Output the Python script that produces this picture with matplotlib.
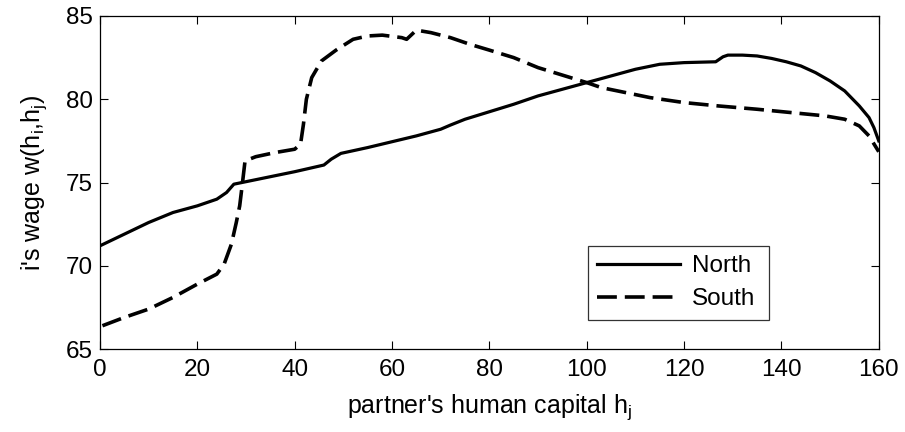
import matplotlib
matplotlib.use("Agg")
import matplotlib.pyplot as plt

plt.rcParams['font.family'] = ['Liberation Sans', 'DejaVu Sans']
plt.rcParams['mathtext.fontset'] = 'custom'
plt.rcParams['mathtext.rm'] = 'Liberation Sans'

# partner's human capital vs wage
north_x = [0, 5, 10, 15, 20, 24, 26, 27.5, 30, 35, 40, 46, 47.5, 49.5, 55, 60, 65,
           70, 72, 75, 80, 85, 90, 95, 100, 105, 110, 115, 120, 126.5, 128, 129,
           132, 135, 138, 141, 144, 147, 150, 153, 156, 158, 159, 160]
north_y = [71.2, 71.9, 72.6, 73.2, 73.6, 74.0, 74.4, 74.9, 75.05, 75.35, 75.65,
           76.05, 76.4, 76.75, 77.1, 77.45, 77.8, 78.2, 78.45, 78.8, 79.25, 79.7,
           80.2, 80.6, 81.0, 81.4, 81.8, 82.1, 82.2, 82.25, 82.55, 82.65, 82.65,
           82.6, 82.45, 82.25, 82.0, 81.6, 81.1, 80.5, 79.6, 78.9, 78.3, 77.5]

south_x = [0.5, 5, 10, 15, 20, 24, 25.5, 27, 28, 28.7, 29.2, 29.8, 32, 36, 40,
           41.2, 41.8, 42.4, 43.5, 45.5, 48.5, 52, 55, 58, 62, 63, 65, 68, 72, 76,
           80, 85, 90, 95, 100, 103, 108, 113, 120, 127, 135, 142, 149, 153, 156,
           158, 160]
south_y = [66.4, 66.9, 67.4, 68.1, 68.9, 69.5, 70.1, 71.3, 72.6, 73.6, 74.8, 76.3,
           76.55, 76.8, 77.0, 77.3, 78.5, 80.0, 81.3, 82.3, 82.95, 83.6, 83.8,
           83.85, 83.7, 83.6, 84.15, 84.0, 83.7, 83.3, 82.95, 82.5, 81.9, 81.45,
           81.0, 80.7, 80.4, 80.1, 79.8, 79.6, 79.4, 79.2, 79.0, 78.8, 78.4, 77.8,
           76.85]

fig = plt.figure(figsize=(9.05, 4.32), dpi=100)
ax = fig.add_axes([0.1105, 0.192, 0.8605, 0.771])

ax.plot(north_x, north_y, color='black', lw=2.3, label='North')
ax.plot(south_x, south_y, color='black', lw=2.6, linestyle=(0, (5.5, 2.2)), label='South')

ax.set_xlim(0, 160)
ax.set_ylim(65, 85)
ax.set_xticks(range(0, 161, 20))
ax.set_yticks(range(65, 86, 5))
ax.tick_params(direction='in', top=True, right=True, length=6, width=0.8,
               labelsize=17.5, colors='black')
ax.tick_params(axis='x', pad=7)
ax.tick_params(axis='y', pad=5)
for s in ax.spines.values():
    s.set_linewidth(0.9)

ax.set_xlabel(r"partner's human capital h$_\mathregular{j}$", fontsize=18, labelpad=8)
ax.set_ylabel(r"i's wage w(h$_\mathregular{i}$,h$_\mathregular{j}$)", fontsize=18, labelpad=12)

leg = ax.legend(loc='lower left', bbox_to_anchor=(0.626, 0.087, 0.233, 0.235),
                mode='expand', fontsize=17.5, handlelength=3.4, frameon=True,
                fancybox=False, edgecolor='black', borderaxespad=0,
                handletextpad=0.5, labelspacing=0.45, borderpad=0.4)
leg.get_frame().set_linewidth(0.9)

fig.savefig('out.png', dpi=100)
